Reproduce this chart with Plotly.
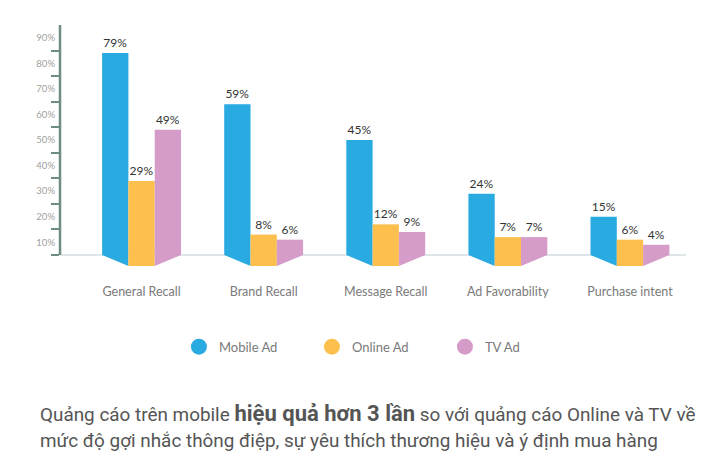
import plotly.graph_objects as go

categories = ["General Recall", "Brand Recall", "Message Recall", "Ad Favorability", "Purchase intent"]
series_names = ["Mobile Ad", "Online Ad", "TV Ad"]
mobile = [79, 59, 45, 24, 15]
online = [29, 8, 12, 7, 6]
tv = [49, 6, 9, 7, 4]
y_tick_labels = ["10%", "20%", "30%", "40%", "50%", "60%", "70%", "80%", "90%"]

colors = ["#29abe2", "#fdc04e", "#d59bc9"]
FONT = "Lato"
W = 0.2154       # bar width in category units
D = 4.3          # depth of the 3D foot below baseline
XR = [-0.668, 4.459]
YR = [-D, 90]

fig = go.Figure()
xs = list(range(len(categories)))
all_series = [mobile, online, tv]

for k, (name, vals, col) in enumerate(zip(series_names, all_series, colors)):
    off = -1.5 * W + k * W
    fig.add_trace(go.Bar(
        x=xs, y=vals, width=W, offset=off, name=name, showlegend=False,
        marker=dict(color=col, line=dict(width=0)),
        text=[f"{v}%" for v in vals], textposition="outside",
        textfont=dict(family=FONT, size=12, color="#333333"),
        cliponaxis=False, hoverinfo="skip"))
    # 3D foot polygons
    px, py = [], []
    for x in xs:
        xl, xr = x + off, x + off + W
        if k == 0:
            pts = [(xl, 0), (xr, 0), (xr, -D), (xl, 0)]
        elif k == 1:
            pts = [(xl, 0), (xr, 0), (xr, -D), (xl, -D), (xl, 0)]
        else:
            pts = [(xl, 0), (xl, -D), (xr, 0), (xl, 0)]
        px += [p[0] for p in pts] + [None]
        py += [p[1] for p in pts] + [None]
    fig.add_trace(go.Scatter(x=px, y=py, mode="lines", fill="toself",
                             fillcolor=col, line=dict(width=0, color=col),
                             showlegend=False, hoverinfo="skip"))

# legend entries (circles)
for name, col in zip(series_names, colors):
    fig.add_trace(go.Scatter(x=[None], y=[None], mode="markers", name=name,
                             marker=dict(size=16, color=col, symbol="circle")))

fig.update_layout(
    width=719, height=469,
    margin=dict(l=52, r=41, t=17, b=211, autoexpand=False),
    paper_bgcolor="white", plot_bgcolor="white",
    barmode="overlay",
    font=dict(family=FONT),
    xaxis=dict(range=XR, tickvals=xs, ticktext=categories, showgrid=False,
               zeroline=False, showline=False, ticks="",
               ticklabelstandoff=16,
               tickfont=dict(family=FONT, size=12.5, color="#7a7a7a")),
    yaxis=dict(range=YR, tickvals=[0, 10, 20, 30, 40, 50, 60, 70, 80],
               showticklabels=False, ticks="outside", ticklen=8, tickwidth=2,
               tickcolor="#6f8d82", showgrid=False, zeroline=False, showline=False),
    yaxis2=dict(range=YR, overlaying="y", anchor="x", side="left",
                tickvals=[5, 15, 25, 35, 45, 55, 65, 75, 85], ticktext=y_tick_labels,
                ticks="", showgrid=False, zeroline=False, showline=False,
                ticklabelstandoff=4,
                tickfont=dict(family=FONT, size=9.5, color="#a0a0a0")),
    legend=dict(orientation="h", x=0.19, y=-0.335, xanchor="left", yanchor="middle",
                entrywidth=88, font=dict(family=FONT, size=13, color="#7a7a7a"),
                itemsizing="trace"),
    shapes=[
        dict(type="line", xref="paper", yref="y", x0=0, x1=1, y0=0, y1=0,
             line=dict(color="#dfe6e9", width=2), layer="below"),
        dict(type="line", xref="paper", yref="y", x0=0, x1=0, y0=0, y1=90,
             line=dict(color="#6f8d82", width=2.5), layer="above"),
    ],
)

# dummy trace on yaxis2 so it renders
fig.add_trace(go.Scatter(x=[None], y=[None], yaxis="y2", showlegend=False, hoverinfo="skip"))

fig.add_annotation(xref="paper", yref="paper", x=-0.035, y=-0.61, xanchor="left", yanchor="middle",
                   showarrow=False, align="left",
                   text="Quảng cáo trên mobile <span style='font-size:22px'><b>hiệu quả hơn 3 lần</b></span> so với quảng cáo Online và TV về",
                   font=dict(family="Roboto", size=18.9, color="#555555"))
fig.add_annotation(xref="paper", yref="paper", x=-0.035, y=-0.725, xanchor="left", yanchor="middle",
                   showarrow=False, align="left",
                   text="mức độ gợi nhắc thông điệp, sự yêu thích thương hiệu và ý định mua hàng",
                   font=dict(family="Roboto", size=18.9, color="#555555"))

fig.write_html("out.html")
